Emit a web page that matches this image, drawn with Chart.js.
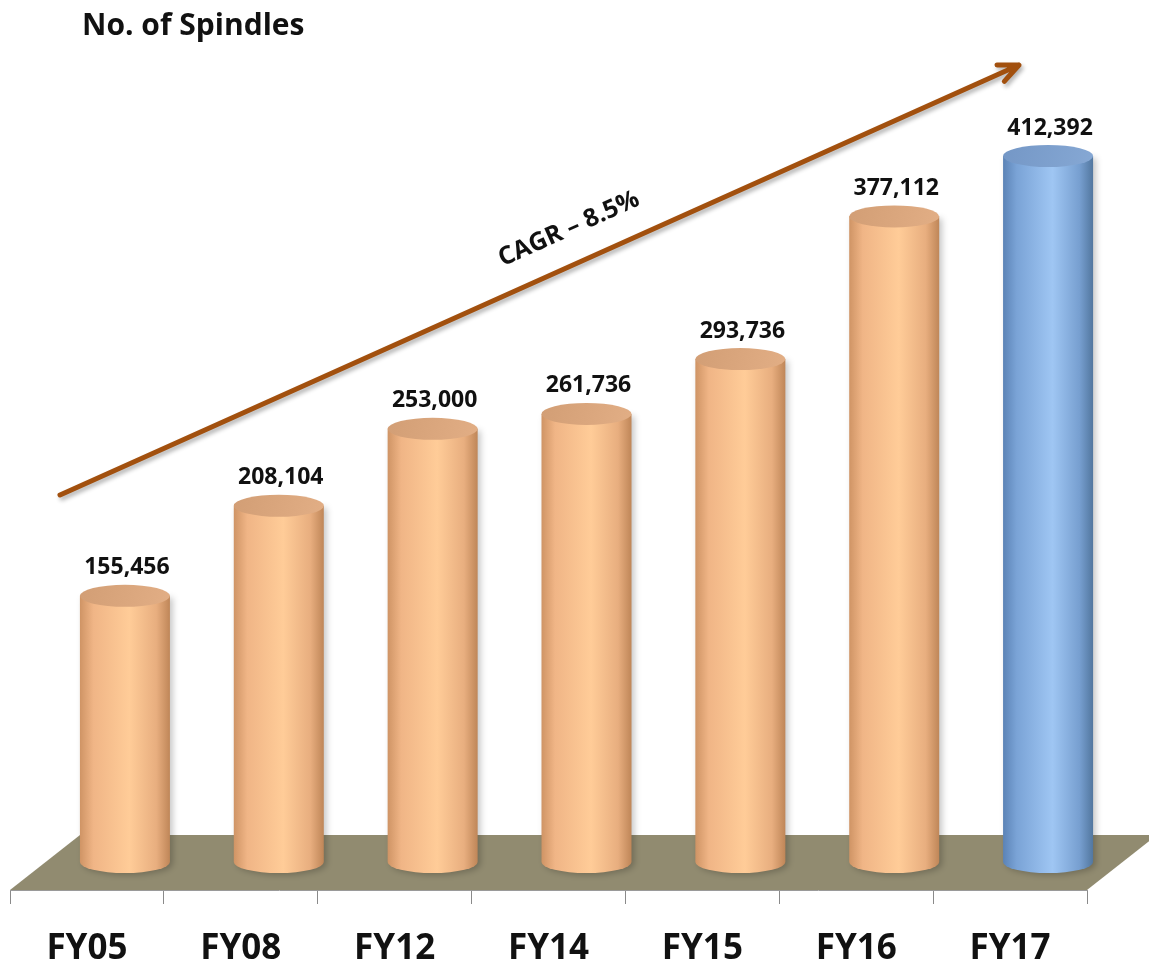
<!DOCTYPE html>
<html>
<head>
<meta charset="utf-8">
<script src="https://cdn.jsdelivr.net/npm/chart.js@4.4.1/dist/chart.umd.min.js"></script>
<style>
  html, body { margin: 0; padding: 0; background: #fff; }
  #wrap { width: 1149px; height: 977px; }
</style>
</head>
<body>
<div id="wrap"><canvas id="spindles"></canvas></div>
<script>
// data
const years = ['FY05', 'FY08', 'FY12', 'FY14', 'FY15', 'FY16', 'FY17'];
const spindles = [155456, 208104, 253000, 261736, 293736, 377112, 412392];
const isLatest = [false, false, false, false, false, false, true];
const titleText = 'No. of Spindles';
const cagrText = 'CAGR \u2013 8.5%';

const FONT = '"Open Sans", Lato, sans-serif';
const DEPTH_X = 70, DEPTH_Y = -55;    // floor depth (3d look)
const BAR_DX = 38, BAR_DY = -28;      // bars sit half way back on the floor
const RY = 11;                         // ellipse half height

const cylinders = {
    id: 'cylinders',
    beforeDatasetsDraw(chart) {
        const ctx = chart.ctx;
        const xs = chart.scales.x, ys = chart.scales.y;
        const y0 = ys.getPixelForValue(0);
        // floor
        ctx.save();
        ctx.fillStyle = '#918b70';
        ctx.beginPath();
        ctx.moveTo(xs.left, y0);
        ctx.lineTo(xs.right, y0);
        ctx.lineTo(xs.right + DEPTH_X, y0 + DEPTH_Y);
        ctx.lineTo(xs.left + DEPTH_X, y0 + DEPTH_Y);
        ctx.closePath();
        ctx.fill();
        ctx.restore();
    },
    afterDatasetsDraw(chart) {
        const ctx = chart.ctx;
        const meta = chart.getDatasetMeta(0);
        meta.data.forEach((bar, i) => {
            const cx = bar.x + BAR_DX;
            const rx = bar.width / 2;
            const top = bar.y + BAR_DY;
            const bot = bar.base + BAR_DY;
            const blue = isLatest[i];
            const edgeL = blue ? '#5b83b6' : '#cf9465';
            const mid = blue ? '#9fc6f3' : '#ffcc98';
            const edgeR = blue ? '#52779f' : '#bf8658';

            ctx.save();
            ctx.shadowColor = 'rgba(0,0,0,0.22)';
            ctx.shadowBlur = 6;
            ctx.shadowOffsetX = 3;
            ctx.shadowOffsetY = 2;
            const g = ctx.createLinearGradient(cx - rx, 0, cx + rx, 0);
            g.addColorStop(0, edgeL);
            g.addColorStop(0.15, blue ? '#7aa3d6' : '#f0b586');
            g.addColorStop(0.55, mid);
            g.addColorStop(0.85, blue ? '#779fd0' : '#e8ae7f');
            g.addColorStop(1, edgeR);
            ctx.fillStyle = g;
            ctx.beginPath();
            ctx.moveTo(cx - rx, top);
            ctx.lineTo(cx - rx, bot);
            ctx.ellipse(cx, bot, rx, RY, 0, Math.PI, 0, true);
            ctx.lineTo(cx + rx, top);
            ctx.closePath();
            ctx.fill();
            ctx.restore();

            // top cap
            ctx.save();
            const tg = ctx.createLinearGradient(cx - rx, top - RY, cx + rx, top + RY);
            tg.addColorStop(0, blue ? '#7497c6' : '#d29e75');
            tg.addColorStop(1, blue ? '#86a8d4' : '#e2ae85');
            ctx.fillStyle = tg;
            ctx.beginPath();
            ctx.ellipse(cx, top, rx, RY, 0, 0, Math.PI * 2);
            ctx.fill();
            ctx.restore();

            // value label
            ctx.save();
            ctx.fillStyle = '#111';
            ctx.font = 'bold 23px ' + FONT;
            ctx.textAlign = 'center';
            ctx.textBaseline = 'middle';
            ctx.fillText(spindles[i].toLocaleString('en-US'), cx + 2, top - 28);
            ctx.restore();
        });
    },
    afterDraw(chart) {
        const ctx = chart.ctx;
        const xs = chart.scales.x;
        const area = chart.chartArea;

        // title
        ctx.save();
        ctx.fillStyle = '#111';
        ctx.font = 'bold 30px ' + FONT;
        ctx.textAlign = 'left';
        ctx.textBaseline = 'alphabetic';
        ctx.fillText(titleText, 82, 35);
        ctx.restore();

        // growth arrow
        const x1 = xs.left + 50, y1 = area.top + 461;
        const x2 = xs.right - 68, y2 = area.top + 31;
        const ang = Math.atan2(y2 - y1, x2 - x1);
        ctx.save();
        ctx.shadowColor = 'rgba(0,0,0,0.3)';
        ctx.shadowBlur = 4;
        ctx.shadowOffsetX = 2;
        ctx.shadowOffsetY = 3;
        ctx.strokeStyle = '#a2500e';
        ctx.lineWidth = 5;
        ctx.lineCap = 'round';
        ctx.lineJoin = 'round';
        ctx.beginPath();
        ctx.moveTo(x1, y1);
        ctx.lineTo(x2, y2);
        ctx.moveTo(x2 + 22 * Math.cos(ang + Math.PI - 0.42), y2 + 22 * Math.sin(ang + Math.PI - 0.42));
        ctx.lineTo(x2, y2);
        ctx.lineTo(x2 + 22 * Math.cos(ang + Math.PI + 0.42), y2 + 22 * Math.sin(ang + Math.PI + 0.42));
        ctx.stroke();
        ctx.restore();

        // CAGR text, parallel to the arrow
        ctx.save();
        ctx.translate(569, 229);
        ctx.rotate(ang);
        ctx.fillStyle = '#111';
        ctx.font = 'bold 25px ' + FONT;
        ctx.textAlign = 'center';
        ctx.textBaseline = 'middle';
        ctx.fillText(cagrText, 0, 0);
        ctx.restore();
    }
};

new Chart(document.getElementById('spindles'), {
    type: 'bar',
    data: {
        labels: years,
        datasets: [{
            data: spindles,
            backgroundColor: 'rgba(0,0,0,0)',
            borderWidth: 0,
            categoryPercentage: 1,
            barPercentage: 0.585
        }]
    },
    options: {
        responsive: true,
        maintainAspectRatio: false,
        animation: false,
        layout: { padding: { top: 34, left: 10, right: 62, bottom: 0 } },
        plugins: {
            legend: { display: false },
            tooltip: { enabled: false }
        },
        scales: {
            x: {
                afterFit(scale) { scale.height = 87; },
                ticks: {
                    color: '#111',
                    padding: 24,
                    font: { family: FONT, size: 35, weight: 'bold' }
                },
                grid: {
                    drawOnChartArea: false,
                    tickLength: 14,
                    color: '#8a8a8a',
                    offset: true
                },
                border: { color: '#9a9a9a', width: 1 }
            },
            y: {
                display: false,
                min: 0,
                max: 500000
            }
        }
    },
    plugins: [cylinders]
});
</script>
</body>
</html>
